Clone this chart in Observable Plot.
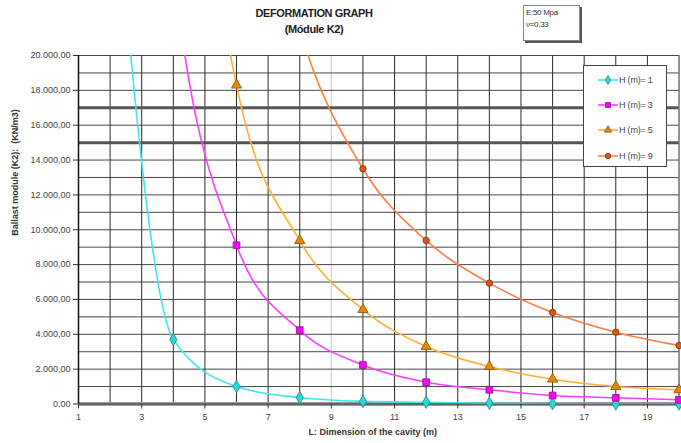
<!DOCTYPE html>
<html><head><meta charset="utf-8">
<script src="https://cdn.jsdelivr.net/npm/d3@7"></script>
<script src="https://cdn.jsdelivr.net/npm/@observablehq/plot@0.6"></script>
<style>
body{margin:0;background:#fff;font-family:"Liberation Sans",Arial,sans-serif}
#wrap{position:relative;width:681px;height:443px;overflow:hidden;background:#fff}
#title{position:absolute;left:214px;top:5px;width:200px;text-align:center;font-weight:bold;font-size:11px;line-height:16px;color:#222;letter-spacing:-0.4px}
#ebox{position:absolute;left:523px;top:5px;width:57px;height:36px;border:1px solid #888;box-shadow:2px 2px 0 #555;font-size:8px;line-height:12px;padding:1px 2px;box-sizing:border-box;color:#333;background:#fff;letter-spacing:-0.3px}
#legend{position:absolute;left:583px;top:65px;width:84px;height:102px;border:1px solid #444;background:#fff;box-sizing:border-box}
.item{position:absolute;left:13px;height:12px;font-size:9px;line-height:12px;color:#444;display:flex;align-items:center;white-space:nowrap;letter-spacing:-0.2px}
.item svg{margin-right:1px}
</style></head>
<body>
<div id="wrap">
  <div id="chart"></div>
  <div id="title">DEFORMATION GRAPH<br>(Módule K2)</div>
  <div id="ebox">E:50 Mpa<br>ν=0.33</div>
  <div id="legend"></div>
</div>
<script>
// Data
const L = [2, 4, 6, 8, 10, 12, 14, 16, 18, 20];
const H1 = [33000, 3700, 1000, 370, 150, 100, 40, 20, 10, 5];
const H3 = [80000, 25000, 9110, 4240, 2235, 1250, 815, 488, 356, 241];
const H5 = [110000, 45000, 18300, 9380, 5420, 3300, 2150, 1425, 1005, 815];
const H9 = [null, 80000, 38000, 21500, 13500, 9386, 6935, 5253, 4122, 3358];
const seriesNames = ["H (m)= 1", "H (m)= 3", "H (m)= 5", "H (m)= 9"];
const seriesValues = [H1, H3, H5, H9];
const colors = ["#3fe6ee", "#ff3dff", "#ffad33", "#ff7f40"];
const fills = ["#2fd6d6", "#ff00ff", "#e08a00", "#e0560f"];
const strokes = ["#1a8a8a", "#7a1a7a", "#8a5200", "#80300a"];
const symbols = ["diamond", "square", "triangle", "circle"];
const xTicks = [1, 3, 5, 7, 9, 11, 13, 15, 17, 19];
const yTicks = [0, 2000, 4000, 6000, 8000, 10000, 12000, 14000, 16000, 18000, 20000];
const yTitle = "Ballast module (K2):  (KN/m3)";
const xTitle = "L: Dimension of the cavity (m)";

const rows = [];
seriesValues.forEach((vals, i) => {
  vals.forEach((v, j) => { if (v != null) rows.push({series: seriesNames[i], s: i, L: L[j], K: v}); });
});
const visible = rows.filter(d => d.K <= 20000 && d.L >= 1);

const loc = d3.formatLocale({decimal: ",", thousands: ".", grouping: [3], currency: ["", ""]});
const fmt = loc.format(",.2f");

const vGrid = d3.range(1, 21);
const hGrid = d3.range(0, 20001, 1000);

const marks = [
  Plot.ruleX(vGrid, {x: d => d, stroke: d => d === 9 ? "#c8c8c8" : "#2a2a2a", strokeWidth: 1}),
  Plot.ruleY(hGrid, {y: d => d, stroke: "#333", strokeWidth: 1, strokeOpacity: 0.9}),
  Plot.ruleY([15000, 17000], {stroke: "#555", strokeWidth: 3}),
  Plot.ruleY([0], {stroke: "#9a9a9a", strokeWidth: 4}),
  Plot.ruleY([0], {stroke: "#333", strokeWidth: 1}),
  Plot.ruleX([1], {stroke: "#111", strokeWidth: 1.5}),
  Plot.axisY(yTicks, {tickFormat: fmt, tickSize: 5, tickPadding: 3, label: null, fontSize: 9, fill: "#444"}),
  Plot.axisX(xTicks, {tickSize: 5, tickPadding: 5, label: null, fontSize: 9, fill: "#444"}),
  Plot.text([yTitle], {frameAnchor: "left", rotate: -90, dx: -63, dy: 6, fontSize: 9, fontWeight: "bold", fill: "#333"}),
  Plot.text([xTitle], {frameAnchor: "bottom", dy: 30.5, dx: -6, fontSize: 9, fontWeight: "bold", fill: "#333"}),
  ...seriesNames.map((name, i) => Plot.line(rows.filter(d => d.s === i), {x: "L", y: "K", stroke: colors[i], strokeWidth: 1.6, curve: "monotone-x", clip: true})),
  ...seriesNames.map((name, i) => Plot.dot(visible.filter(d => d.s === i), {x: "L", y: "K", symbol: () => symbols[i], fill: fills[i], stroke: strokes[i], strokeWidth: 0.8, r: i === 3 ? 3.2 : 3.8}))
];

const chart = Plot.plot({
  width: 681, height: 443,
  marginTop: 55, marginLeft: 78, marginRight: 2.5, marginBottom: 39.5,
  x: {domain: [1, 20]},
  y: {domain: [0, 20000]},
  symbol: {type: "identity"},
  style: {fontFamily: "'Liberation Sans', Arial, sans-serif", fontSize: "9px", background: "#fff", color: "#333"},
  marks
});
document.getElementById("chart").appendChild(chart);

// legend
const leg = d3.select("#legend");
const symMap = {diamond: d3.symbolDiamond, square: d3.symbolSquare, triangle: d3.symbolTriangle, circle: d3.symbolCircle};
const legTops = [8, 33, 58, 84];
seriesNames.forEach((name, i) => {
  const it = leg.append("div").attr("class", "item").style("top", legTops[i] + "px");
  const svg = it.append("svg").attr("width", 21).attr("height", 12);
  svg.append("line").attr("x1", 1).attr("x2", 21).attr("y1", 6).attr("y2", 6).attr("stroke", colors[i]).attr("stroke-width", 1.6);
  svg.append("path").attr("transform", "translate(11,6)").attr("d", d3.symbol(symMap[symbols[i]], 24)()).attr("fill", fills[i]).attr("stroke", strokes[i]).attr("stroke-width", 0.8);
  it.append("span").text(name);
});
</script>
</body></html>
